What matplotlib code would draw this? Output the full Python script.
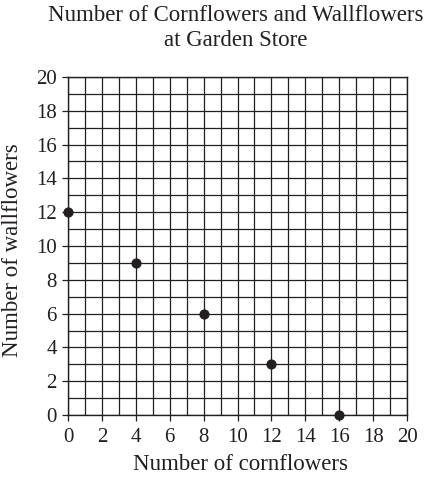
import matplotlib
matplotlib.use("Agg")
import matplotlib.pyplot as plt
from matplotlib.ticker import MultipleLocator

cornflowers = [0, 4, 8, 12, 16]
wallflowers = [12, 9, 6, 3, 0]
tick_values = [0, 2, 4, 6, 8, 10, 12, 14, 16, 18, 20]
title = "Number of Cornflowers and Wallflowers\nat Garden Store"
xlabel = "Number of cornflowers"
ylabel = "Number of wallflowers"

plt.rcParams['font.family'] = ['Liberation Serif', 'DejaVu Serif']
ink = '#231f20'

fig = plt.figure(figsize=(4.29, 4.80), dpi=100)
ax = fig.add_axes([68/429, 65/480, (407-68)/429, (415-77)/480])
ax.set_xlim(0, 20)
ax.set_ylim(0, 20)
ax.xaxis.set_minor_locator(MultipleLocator(1))
ax.yaxis.set_minor_locator(MultipleLocator(1))
ax.set_xticks(tick_values)
ax.set_yticks(tick_values)
ax.grid(which='both', color=ink, linewidth=0.9)
ax.set_axisbelow(True)
for s in ax.spines.values():
    s.set_color(ink)
    s.set_linewidth(1.0)
ax.tick_params(which='major', direction='out', length=4.5, width=0.9, color=ink,
               labelsize=15, labelcolor=ink)
ax.tick_params(axis='x', pad=5)
ax.tick_params(axis='y', pad=3.5)
ax.tick_params(which='minor', length=0)
ax.scatter(cornflowers, wallflowers, s=40, color=ink, zorder=5, clip_on=False)
fig.text(241/429, 1 - 465/480, xlabel, ha='center', va='center', fontsize=16.5, color=ink)
fig.text(13/429, 1 - 250/480, ylabel, ha='center', va='center', rotation=90,
         fontsize=16.5, color=ink)
fig.text(236/429, 1 - 28/480, title, ha='center', va='center', fontsize=16.5, color=ink,
         linespacing=1.3)
fig.savefig("out.png", dpi=100)
